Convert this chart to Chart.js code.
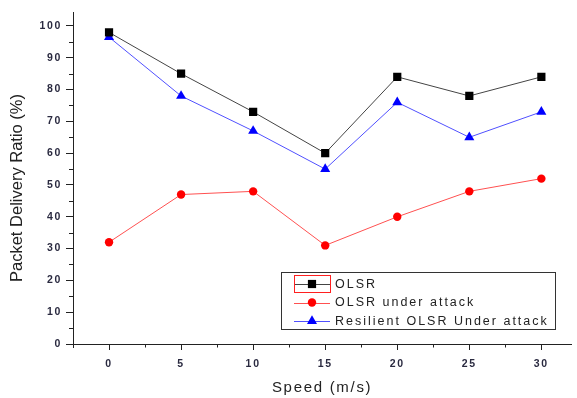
<!DOCTYPE html>
<html>
<head>
<meta charset="UTF-8">
<title>Packet Delivery Ratio vs Speed</title>
<script src="https://cdn.jsdelivr.net/npm/chart.js"></script>
<style>
  body { margin: 0; background: #fff; }
  canvas { display: block; }
</style>
</head>
<body>
<canvas id="pdrChart" width="577" height="398"></canvas>
<script>
const speeds = [0, 5, 10, 15, 20, 25, 30];
const olsr = [98, 85, 73, 60, 84, 78, 84];
const olsrAttack = [32, 47, 48, 31, 40, 48, 52];
const resilient = [96.5, 78, 67, 55, 76, 65, 73];
const xTicks = [0, 5, 10, 15, 20, 25, 30];
const yTicks = [0, 10, 20, 30, 40, 50, 60, 70, 80, 90, 100];
const seriesNames = ['OLSR', 'OLSR under attack', 'Resilient OLSR Under attack'];
const xTitle = 'Speed (m/s)';
const yTitle = 'Packet Delivery Ratio (%)';

const axisColor = '#222';
const tickFont = { family: 'Arial, "Liberation Sans"', size: 10.5, weight: 'bold' };

function toPoints(ys) {
    return speeds.map((s, i) => ({ x: s, y: ys[i] }));
}

function drawMarker(ctx, style, x, y, r, color) {
    ctx.save();
    ctx.fillStyle = color;
    ctx.beginPath();
    if (style === 'rect') {
        const s = Math.SQRT1_2 * r;
        ctx.rect(x - s, y - s, 2 * s, 2 * s);
    } else if (style === 'triangle') {
        ctx.moveTo(x, y - r);
        ctx.lineTo(x + r * 0.866, y + r * 0.5);
        ctx.lineTo(x - r * 0.866, y + r * 0.5);
        ctx.closePath();
    } else {
        ctx.arc(x, y, r, 0, Math.PI * 2);
    }
    ctx.fill();
    ctx.restore();
}

// the reference text looks horizontally stretched
const wideText = {
    id: 'wideText',
    beforeDraw(chart) { chart.ctx.letterSpacing = '1.7px'; }
};

const minorTicks = {
    id: 'minorTicks',
    afterDraw(chart) {
        const ctx = chart.ctx;
        const xs = chart.scales.x, ys = chart.scales.y;
        const area = chart.chartArea;
        ctx.save();
        ctx.strokeStyle = axisColor;
        ctx.lineWidth = 1;
        ctx.beginPath();
        for (let i = 0; i < xTicks.length; i++) {
            const v = xTicks[i] - 2.5;
            const px = Math.round(xs.getPixelForValue(v)) + 0.5;
            ctx.moveTo(px, area.bottom);
            ctx.lineTo(px, area.bottom + 3.5);
        }
        for (let i = 0; i < yTicks.length - 1; i++) {
            const v = (yTicks[i] + yTicks[i + 1]) / 2;
            const py = Math.round(ys.getPixelForValue(v)) + 0.5;
            ctx.moveTo(area.left, py);
            ctx.lineTo(area.left - 4, py);
        }
        // small overhang of the y axis below the x axis
        ctx.moveTo(area.left + 0.5, area.bottom);
        ctx.lineTo(area.left + 0.5, area.bottom + 4);
        ctx.stroke();
        ctx.restore();
    }
};

const boxLegend = {
    id: 'boxLegend',
    afterDraw(chart) {
        const ctx = chart.ctx;
        const x0 = 281, y0 = 272, w = 274, h = 57;
        ctx.save();
        ctx.fillStyle = '#fff';
        ctx.fillRect(x0, y0, w, h);
        ctx.strokeStyle = '#333';
        ctx.lineWidth = 1;
        ctx.strokeRect(x0 + 0.5, y0 + 0.5, w, h);
        const rows = [284, 302.5, 321];
        chart.data.datasets.forEach((ds, i) => {
            const y = rows[i];
            ctx.strokeStyle = ds.borderColor;
            ctx.lineWidth = 1;
            ctx.beginPath();
            ctx.moveTo(294, Math.round(y) + 0.5);
            ctx.lineTo(330, Math.round(y) + 0.5);
            ctx.stroke();
            drawMarker(ctx, ds.pointStyle, 312, y, ds.pointRadius, ds.pointBackgroundColor);
            ctx.fillStyle = '#222';
            ctx.font = '12.5px Arial, "Liberation Sans"';
            ctx.letterSpacing = '2px';
            ctx.textBaseline = 'middle';
            ctx.textAlign = 'left';
            ctx.fillText(ds.label, 335, y + 0.5);
        });
        // selection frame around the first sample
        ctx.strokeStyle = '#ff2020';
        ctx.strokeRect(294.5, 275.5, 36, 17);
        ctx.restore();
    }
};

const yAxisTitle = {
    id: 'yAxisTitle',
    afterDraw(chart) {
        const ctx = chart.ctx;
        ctx.save();
        ctx.letterSpacing = '0px';
        ctx.translate(17, 188);
        ctx.rotate(-Math.PI / 2);
        ctx.fillStyle = '#222';
        ctx.font = '16.5px Arial, "Liberation Sans"';
        ctx.textAlign = 'center';
        ctx.textBaseline = 'middle';
        ctx.fillText(yTitle, 0, 0);
        ctx.restore();
    }
};

const ctx = document.getElementById('pdrChart').getContext('2d');

new Chart(ctx, {
    type: 'line',
    data: {
        datasets: [{
            label: seriesNames[0],
            data: toPoints(olsr),
            borderColor: '#444',
            borderWidth: 1,
            pointStyle: 'rect',
            pointRadius: 5.8,
            pointBackgroundColor: '#000',
            pointBorderWidth: 0,
            fill: false
        }, {
            label: seriesNames[1],
            data: toPoints(olsrAttack),
            borderColor: '#ff5050',
            borderWidth: 1,
            pointStyle: 'circle',
            pointRadius: 4.2,
            pointBackgroundColor: '#ff0000',
            pointBorderWidth: 0,
            fill: false
        }, {
            label: seriesNames[2],
            data: toPoints(resilient),
            borderColor: '#5050ff',
            borderWidth: 1,
            pointStyle: 'triangle',
            pointRadius: 5.8,
            pointBackgroundColor: '#0000ff',
            pointBorderWidth: 0,
            fill: false
        }]
    },
    options: {
        responsive: false,
        animation: false,
        layout: { padding: { top: 12, right: 4, left: 0, bottom: 0 } },
        plugins: {
            legend: { display: false },
            tooltip: { enabled: false }
        },
        scales: {
            x: {
                type: 'linear',
                min: -2.5,
                max: 32.07,
                afterBuildTicks(scale) { scale.ticks = xTicks.map(v => ({ value: v })); },
                afterFit(scale) { scale.height = 54; },
                grid: { drawOnChartArea: false, tickLength: 6, color: axisColor },
                border: { color: axisColor, width: 1 },
                ticks: { font: tickFont, color: '#2a2a40', padding: 8, maxRotation: 0 },
                title: {
                    display: true,
                    text: xTitle,
                    color: '#222',
                    font: { family: 'Arial, "Liberation Sans"', size: 15 },
                    padding: { top: 0, bottom: 1 }
                }
            },
            y: {
                type: 'linear',
                min: 0,
                max: 104.4,
                afterBuildTicks(scale) { scale.ticks = yTicks.map(v => ({ value: v })); },
                afterFit(scale) { scale.width = 73; },
                grid: { drawOnChartArea: false, tickLength: 7, color: axisColor },
                border: { color: axisColor, width: 1 },
                ticks: { font: tickFont, color: '#2a2a40', padding: 4 }
            }
        }
    },
    plugins: [wideText, minorTicks, boxLegend, yAxisTitle]
});
</script>
</body>
</html>
